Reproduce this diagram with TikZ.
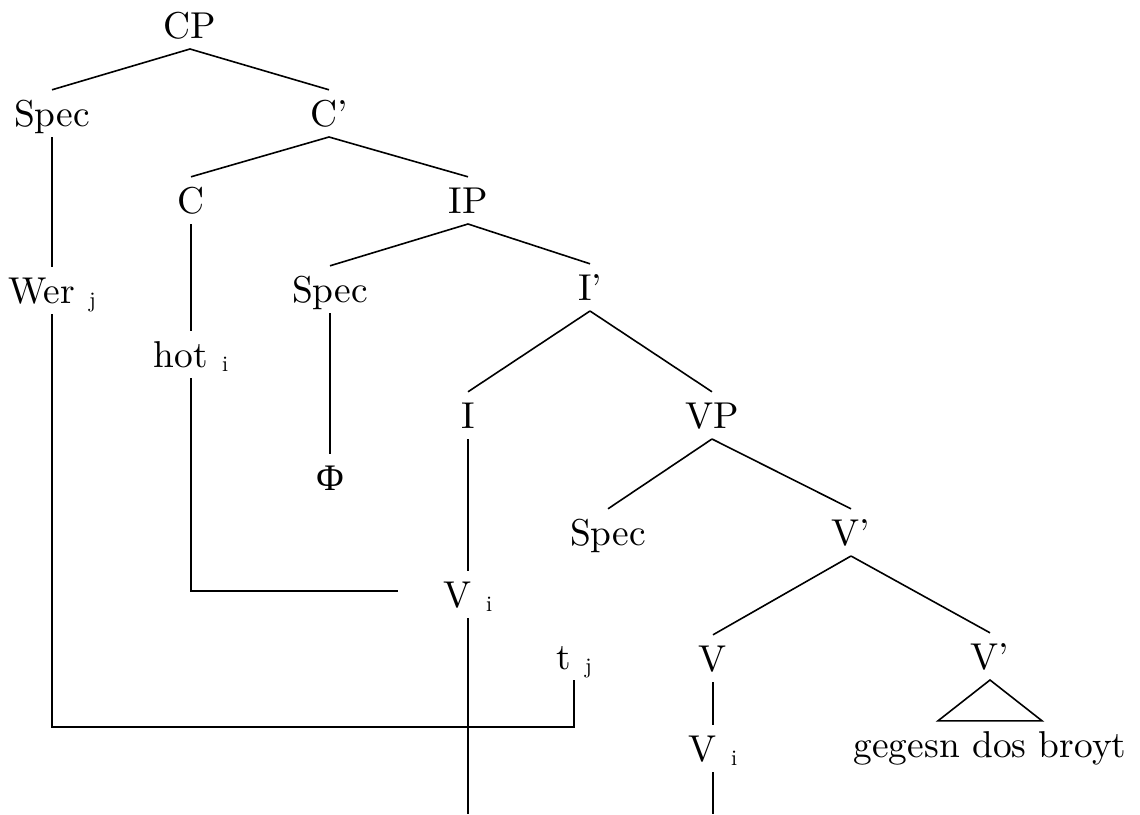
\documentclass[tikz,border=0pt]{standalone}
\usepackage{fontspec}
\setmainfont{lmroman10-regular.otf}
\newfontfamily\phifont{Liberation Serif}
\newcommand{\idx}[1]{\hspace{0.38em}\raisebox{-2pt}{\fontsize{11}{13}\selectfont #1}}
\begin{document}
\begin{tikzpicture}[x=0.5pt,y=-0.5pt,
  lab/.style={anchor=base, inner xsep=0pt, inner ysep=5.3pt, text height=12.6pt, text depth=0pt, font=\fontsize{18.7}{22}\selectfont},
  edge/.style={line width=0.8pt, line cap=butt}]
\useasboundingbox[fill=white] (0,0) rectangle (1140,814);
% nodes
\node[lab] (cp) at (190,38) {CP};
\node[lab] (spec1) at (52,126) {Spec};
\node[lab] (cbar) at (329,126) {C’};
\node[lab] (c) at (191,213) {C};
\node[lab] (ip) at (468,213) {IP};
\node[lab] (wer) at (52,303) {Wer\idx{j}};
\node[lab] (spec2) at (330,302) {Spec};
\node[lab] (ibar) at (590,300) {I’};
\node[lab] (hot) at (191,367) {hot\idx{i}};
\node[lab] (i) at (468,428) {I};
\node[lab] (vp) at (712,428) {VP};
\node[lab] (phi) at (330,490) {{\phifont Φ}};
\node[lab] (spec3) at (608,545) {Spec};
\node[lab] (vbar) at (851,545) {V’};
\node[lab] (vi1) at (468,607) {V\idx{i}};
\node[lab] (tj) at (574,669) {t\idx{j}};
\node[lab] (v) at (713,671) {V};
\node[lab] (vbar2) at (990,669) {V’};
\node[lab] (vi2) at (713,761) {V\idx{i}};
\node[lab] (geg) at (990,757) {gegesn dos broyt};
% free ends
\coordinate (hend) at (398,591);
\coordinate (wbot) at (52,727);
\coordinate (bot1) at (468,814);
\coordinate (bot2) at (713,814);
% tree edges
\draw[edge] (cp.south) -- (spec1.north);
\draw[edge] (cp.south) -- (cbar.north);
\draw[edge] (cbar.south) -- (c.north);
\draw[edge] (cbar.south) -- (ip.north);
\draw[edge] (ip.south) -- (spec2.north);
\draw[edge] (ip.south) -- (ibar.north);
\draw[edge] (ibar.south) -- (i.north);
\draw[edge] (ibar.south) -- (vp.north);
\draw[edge] (vp.south) -- (spec3.north);
\draw[edge] (vp.south) -- (vbar.north);
\draw[edge] (vbar.south) -- (v.north);
\draw[edge] (vbar.south) -- (vbar2.north);
\draw[edge] (spec1.south) -- (wer.north);
\draw[edge] (c.south) -- (hot.north);
\draw[edge] (spec2.south) -- (phi.north);
\draw[edge] (i.south) -- (vi1.north);
\draw[edge] (v.south) -- (vi2.north);
% movement lines
\draw[edge] (hot.south) |- (hend);
\draw[edge] (wer.south) -- (wbot) -| (tj.south);
\draw[edge] (vi1.south) -- (bot1);
\draw[edge] (vi2.south) -- (bot2);
% triangle
\draw[edge, line join=miter] (vbar2.south) -- ([xshift=-26pt]geg.north) -- ([xshift=26pt]geg.north) -- cycle;
\end{tikzpicture}
\end{document}
